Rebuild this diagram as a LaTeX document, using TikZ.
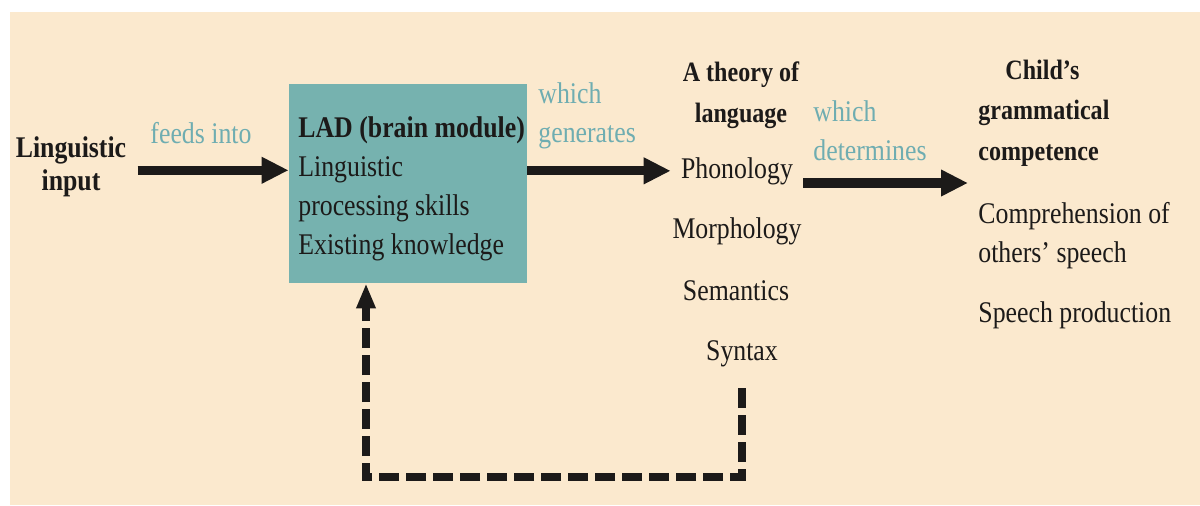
\documentclass[tikz,border=0pt]{standalone}
\usepackage{fontspec}
\setmainfont{Liberation Serif}[FakeStretch=0.86]
\usetikzlibrary{positioning, arrows.meta}
\definecolor{creamBg}{HTML}{FBE9CE}
\definecolor{ladTeal}{HTML}{76B2AF}
\definecolor{linkTeal}{HTML}{6FADB1}
\definecolor{inkBlack}{HTML}{1C1A19}

\begin{document}
\begin{tikzpicture}[
  x=0.5pt, y=-0.5pt,
  txt/.style={inner sep=0pt, text=inkBlack, font=\fontsize{15}{19.5}\selectfont},
  head/.style={txt, font=\fontsize{14}{20.25}\selectfont\bfseries, align=center},
  link/.style={txt, text=linkTeal, align=left, anchor=base west},
  item/.style={txt, anchor=base},
  ladBox/.style={fill=ladTeal, minimum width=119pt, minimum height=99.5pt, inner sep=0pt},
  bigArrow/.style={-{Triangle[length=13.5pt, width=12.5pt]}, line width=4.5pt, inkBlack},
  fbArrow/.style={-{Triangle[length=12.5pt, width=9pt]}, line width=4pt, inkBlack, dash pattern=on 10pt off 3.5pt}
]

% page and background
\useasboundingbox (0,0) rectangle (1200,505);
\fill[creamBg] (10,12) rectangle (1200,505);

% input and the LAD (multi-line nodes sit on their last baseline)
\node[txt, font=\fontsize{15}{16.5}\selectfont\bfseries, align=center, anchor=base] (input) at (71,190) {Linguistic\\input};
\node[txt, text=linkTeal, anchor=base] (feeds) at (201,143) {feeds into};
\node[ladBox] (lad) at (408,183.5) {};
\node[txt, align=left, anchor=base west] (ladText) at (298,254) {\textbf{LAD (brain module)}\\Linguistic\\processing skills\\Existing knowledge};
\node[link] (generates) at (538,142) {which\\generates};

% theory of language
\node[head, anchor=base] (theory) at (741,122) {A theory of\\language};
\node[item] (phon) at (737,178) {Phonology};
\node[item] (morph) at (737,238) {Morphology};
\node[item] (sem) at (736,300) {Semantics};
\node[item] (syn) at (742,360) {Syntax};
\node[link] (determines) at (813,160) {which\\determines};

% competence
\node[head, align=left, anchor=base west] (child) at (978,160) {\hspace*{13.5pt}Child's\\grammatical\\competence};
\node[txt, align=left, anchor=base west] (comp) at (978,262) {Comprehension of\\others' speech};
\node[txt, anchor=base west] (prod) at (978,322) {Speech production};

% arrows
\coordinate (detFrom) at (803,183);
\coordinate (fbStart) at (742,388);
\coordinate (fbCorner) at (366,477);
\draw[bigArrow, shorten <=5.5pt] ([yshift=-2pt]input.east) -- ([yshift=-2pt]input.east -| lad.west);
\draw[bigArrow, shorten >=5pt] (lad.east |- phon.west) -- (phon.west);
\draw[bigArrow, line width=5pt, shorten >=5pt] (detFrom) -- (detFrom -| comp.west);
\draw[fbArrow] (fbStart) |- (fbCorner) -- (fbCorner |- lad.south);

\end{tikzpicture}
\end{document}
